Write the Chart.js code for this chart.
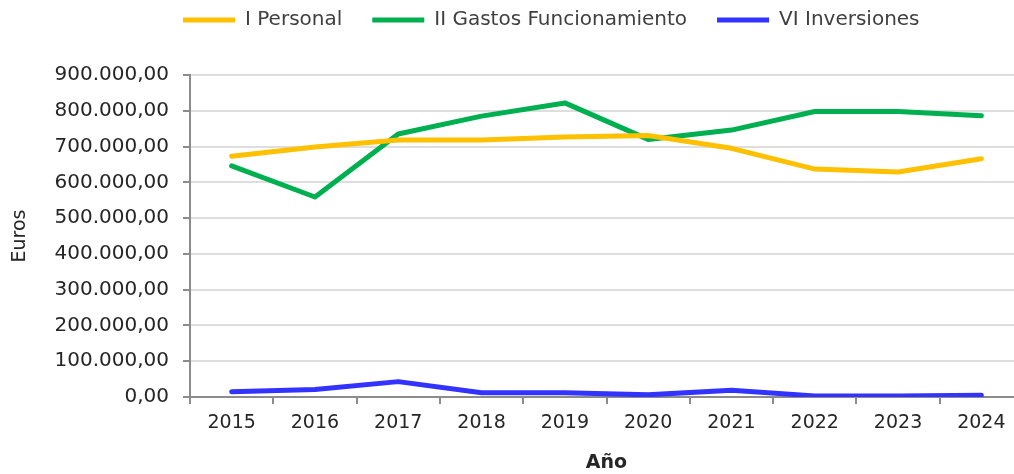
<!DOCTYPE html>
<html><head><meta charset="utf-8">
<script src="https://cdn.jsdelivr.net/npm/chart.js@4/dist/chart.umd.min.js"></script>
<style>html,body{margin:0;padding:0;background:#fff;overflow:hidden;width:1014px;height:474px}canvas{display:block}</style>
</head><body>
<canvas id="c" width="1023" height="474"></canvas>
<script>
const years = ['2015','2016','2017','2018','2019','2020','2021','2022','2023','2024'];
const personal = [673000, 699000, 718000, 718000, 727000, 731000, 695000, 637000, 629000, 666000];
const gastos = [646000, 559000, 735000, 785000, 822000, 720000, 746000, 798000, 798000, 786000];
const inversiones = [15000, 21000, 43000, 12000, 12000, 6000, 19000, 3000, 3000, 5000];
const seriesNames = ['I Personal', 'II Gastos Funcionamiento', 'VI Inversiones'];
const seriesColors = ['#FFC000', '#00B050', '#3333FF'];
const yAxisTitle = 'Euros';
const xAxisTitle = 'Año';

function fmt(v){
  const s = Math.round(v).toString().replace(/\B(?=(\d{3})+(?!\d))/g, '.');
  return s + ',00';
}

const legendShift = {
  id: 'legendShift',
  afterLayout(chart){
    const lg = chart.legend;
    if(lg){
      const dx = 153 - lg.left; lg.left += dx; lg.right += dx;
      const dy = -20 - lg.top; lg.top += dy; lg.bottom += dy;
    }
  }
};

new Chart(document.getElementById('c'), {
  type: 'line',
  data: {
    labels: years,
    datasets: [personal, gastos, inversiones].map((d, i) => ({
      label: seriesNames[i], data: d, borderColor: seriesColors[i], backgroundColor: seriesColors[i],
      borderWidth: 5, pointRadius: 0, tension: 0, borderCapStyle: 'round', borderJoinStyle: 'round'
    }))
  },
  options: {
    responsive: false, animation: false,
    layout: {padding: {left: 9, right: 0, top: 15, bottom: 0}},
    plugins: {
      tooltip: {enabled: false},
      legend: {
        position: 'top', align: 'start',
        labels: {usePointStyle: true, pointStyle: 'line', pointStyleWidth: 52, padding: 30,
                 color: '#404040', font: {family: 'DejaVu Sans', size: 20}}
      }
    },
    scales: {
      x: {
        offset: true,
        grid: {offset: true, drawOnChartArea: false, drawTicks: true, tickLength: 7, tickColor: '#8c8c8c', lineWidth: 2},
        border: {color: '#8c8c8c', width: 2},
        ticks: {color: '#262626', font: {family: 'DejaVu Sans', size: 19}, padding: 8, maxRotation: 0},
        title: {display: true, text: xAxisTitle, color: '#262626', font: {family: 'DejaVu Sans', size: 19, weight: 'bold'}, padding: {top: 8, bottom: 0}},
        afterFit(s){ s.height = 474 - 397; }
      },
      y: {
        min: 0, max: 900000,
        ticks: {stepSize: 100000, color: '#262626', font: {family: 'DejaVu Sans', size: 20}, padding: 14, callback: v => fmt(v)},
        grid: {color: '#dedede', lineWidth: 2, tickLength: 7, tickColor: '#8c8c8c'},
        border: {color: '#8c8c8c', width: 2},
        title: {display: true, text: yAxisTitle, color: '#262626', font: {family: 'DejaVu Sans', size: 19}, padding: {top: 0, bottom: 0}},
        afterFit(s){ s.width = 190 - 9; }
      }
    }
  },
  plugins: [legendShift]
});
</script>
</body></html>
